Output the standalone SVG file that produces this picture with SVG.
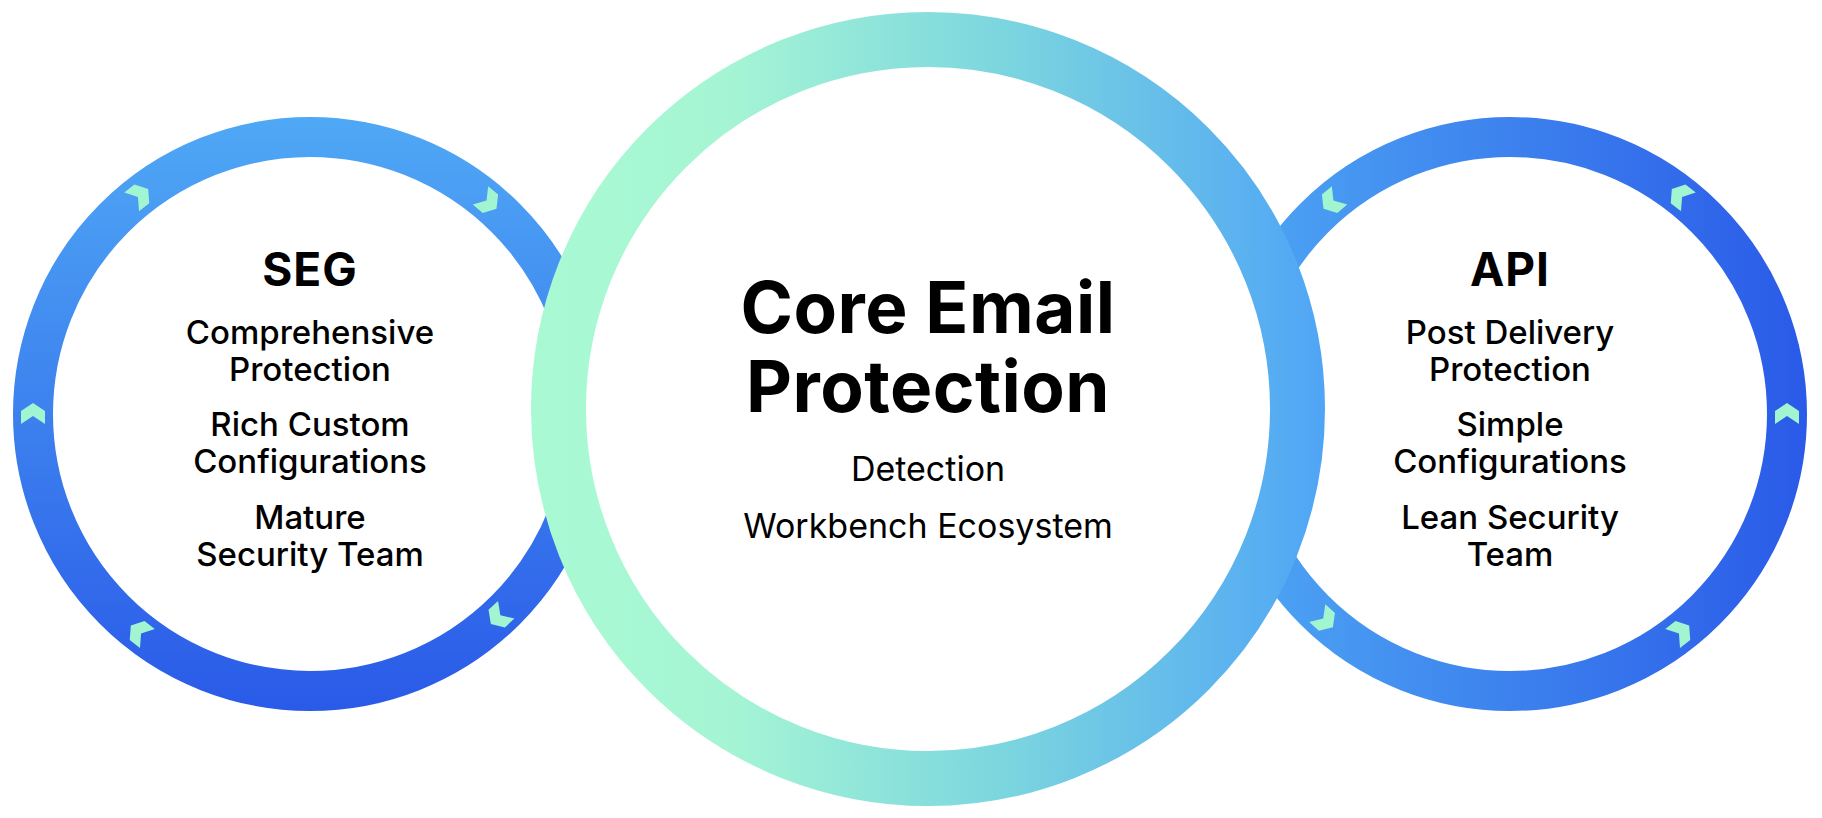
<svg xmlns="http://www.w3.org/2000/svg" width="1822" height="818" viewBox="0 0 1822 818">
<defs>
<linearGradient id="gLeft" gradientUnits="userSpaceOnUse" x1="0" y1="117" x2="0" y2="711">
<stop offset="0" stop-color="#4FA8F5"/>
<stop offset="1" stop-color="#2A5AE8"/>
</linearGradient>
<linearGradient id="gRight" gradientUnits="userSpaceOnUse" x1="1213" y1="0" x2="1807" y2="0">
<stop offset="0" stop-color="#4FA9F4"/>
<stop offset="1" stop-color="#2A5AE8"/>
</linearGradient>
<linearGradient id="gCenter" gradientUnits="userSpaceOnUse" x1="531" y1="0" x2="1325" y2="0">
<stop offset="0" stop-color="#A9FAD3"/>
<stop offset="0.25" stop-color="#A5F5D4"/>
<stop offset="0.6" stop-color="#7BD5DF"/>
<stop offset="1" stop-color="#4FA5F5"/>
</linearGradient>
<polygon id="chev" points="0,-11 12,-3 12,10 0,2 -12,10 -12,-3" fill="#A2F5D1"/>
</defs>
<style>
.t{font-family:Inter,"Liberation Sans",Arial,sans-serif;fill:#000;text-anchor:middle}
.h{font-weight:700;font-size:46px;letter-spacing:1px}
.b{font-weight:500;font-size:33px;letter-spacing:0px}
.c{font-weight:700;font-size:71px;letter-spacing:0.5px}
.s{font-weight:400;font-size:34px;letter-spacing:0px}
</style>
<rect width="1822" height="818" fill="#fff"/>
<g id="seg">
<circle cx="310" cy="414" r="277" fill="#fff" stroke="url(#gLeft)" stroke-width="40"/>
<use href="#chev" transform="translate(498.9,616.6) rotate(227)"/>
<use href="#chev" transform="translate(139.5,632.3) rotate(308)"/>
<use href="#chev" transform="translate(33,414)"/>
<use href="#chev" transform="translate(139.5,195.7) rotate(52)"/>
<use href="#chev" transform="translate(488.1,201.8) rotate(130)"/>
<text class="t h" x="310" y="286">SEG</text>
<text class="t b" x="310" y="344">Comprehensive</text>
<text class="t b" x="310" y="381">Protection</text>
<text class="t b" x="310" y="436">Rich Custom</text>
<text class="t b" x="310" y="473">Configurations</text>
<text class="t b" x="310" y="529">Mature</text>
<text class="t b" x="310" y="566">Security Team</text>
</g>
<g id="api">
<circle cx="1510" cy="414" r="277" fill="#fff" stroke="url(#gRight)" stroke-width="40"/>
<use href="#chev" transform="translate(1787,414)"/>
<use href="#chev" transform="translate(1680.5,632.3) rotate(52)"/>
<use href="#chev" transform="translate(1324.7,619.8) rotate(132)"/>
<use href="#chev" transform="translate(1331.9,201.8) rotate(230)"/>
<use href="#chev" transform="translate(1680.5,195.7) rotate(308)"/>
<text class="t h" x="1510" y="286">API</text>
<text class="t b" x="1510" y="344">Post Delivery</text>
<text class="t b" x="1510" y="381">Protection</text>
<text class="t b" x="1510" y="436">Simple</text>
<text class="t b" x="1510" y="473">Configurations</text>
<text class="t b" x="1510" y="529">Lean Security</text>
<text class="t b" x="1510" y="566">Team</text>
</g>
<g id="core">
<circle cx="928" cy="409" r="369.5" fill="#fff" stroke="url(#gCenter)" stroke-width="55"/>
<text class="t c" x="928" y="333">Core Email</text>
<text class="t c" x="928" y="412">Protection</text>
<text class="t s" x="928" y="481">Detection</text>
<text class="t s" x="928" y="538">Workbench Ecosystem</text>
</g>
<g id="connectors"/>
</svg>
